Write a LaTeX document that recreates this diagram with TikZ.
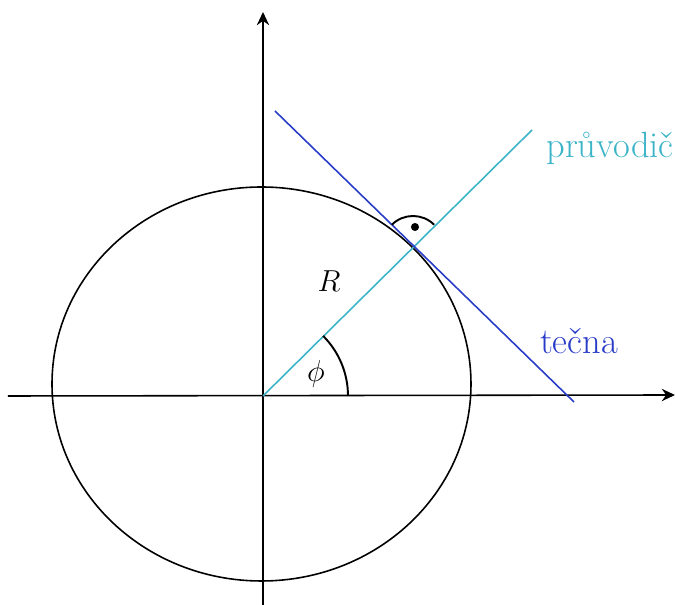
\documentclass[tikz,border=0pt]{standalone}
\usepackage{amsmath}
\usepackage{xcolor}
\usepackage{tikz}
\usetikzlibrary{
	arrows.meta,
	calc,
	positioning
}
\definecolor{RadCyan}{RGB}{60,180,200}
\definecolor{TanBlue}{RGB}{40,60,200}

\begin{document}
\begin{tikzpicture}[line width=0.9pt, font=\LARGE]
		\useasboundingbox (-5.26,-4.18) rectangle (8.24,7.92);
		
		\coordinate (O) at (0,0);
		\coordinate (xL) at (-5.10,0);
		\coordinate (xR) at (8.24,0.02);
		\coordinate (yD) at (0,-4.18);
		\coordinate (yU) at (0,7.68);
		
		% osy
		\draw[-{Stealth[length=7.5pt,width=7pt]}] (xL) -- (xR);
		\draw[-{Stealth[length=7.5pt,width=7pt]}] (yD) -- (yU);
		% elipsa
		\draw (-0.03,0.24) ellipse (4.19 and 3.94);
		
		\coordinate (P) at (3.0,3.0);
		\coordinate (Q) at (5.38,5.32);
		\coordinate (T1) at (0.24,5.70);
		\coordinate (T2) at (6.22,-0.12);
		
		% pruvodic a tecna
		\draw[RadCyan] (O) -- (Q);
		\draw[TanBlue] (T1) -- (T2);
		
		% uhel phi
		\draw[line width=1.1pt] (1.7,0) arc (0:45:1.7);
		\node (phi) at (1.06,0.44) {$\phi$};
		\node (R) at (1.32,2.30) {$R$};
		
		% pravy uhel
		\draw[line width=1.1pt] ($(P)+(45:0.6)$) arc (45:135:0.6);
		\fill ($(P)+(0.04,0.38)$) circle (2.3pt);
		
		\node[RadCyan, font=\huge] (pruv) at (6.94,4.96) {pr\r{u}vodi\v{c}};
		\node[TanBlue, font=\huge] (tecna) at (6.32,1.10) {te\v{c}na};
	\end{tikzpicture}
\end{document}
